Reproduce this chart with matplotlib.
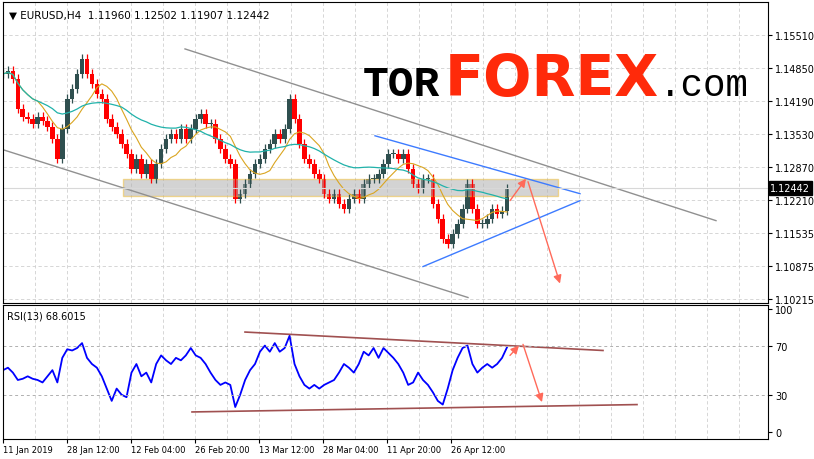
import numpy as np
import pandas as pd
import matplotlib
matplotlib.use("Agg")
import matplotlib.pyplot as plt
from matplotlib.transforms import blended_transform_factory

plt.rcParams["font.family"] = ["DejaVu Sans"]
plt.rcParams["font.size"] = 7

# H4 closes
closes = [1.1473, 1.1479, 1.1463, 1.1403, 1.1387, 1.1383, 1.1373, 1.1387, 1.1379, 1.1367,
          1.1343, 1.1303, 1.1363, 1.1423, 1.1443, 1.1473, 1.1503, 1.1473, 1.1453, 1.1433,
          1.1423, 1.1383, 1.1367, 1.1353, 1.1333, 1.1313, 1.1283, 1.1303, 1.1273, 1.1293,
          1.1263, 1.1293, 1.1323, 1.1343, 1.1353, 1.1343, 1.1363, 1.1343, 1.1363, 1.1383,
          1.1393, 1.1373, 1.1373, 1.1343, 1.1323, 1.1303, 1.1293, 1.1223, 1.1233, 1.1253,
          1.1273, 1.1293, 1.1303, 1.1323, 1.1333, 1.1353, 1.1343, 1.1363, 1.1423, 1.1383,
          1.1333, 1.1303, 1.1293, 1.1273, 1.1263, 1.1233, 1.1223, 1.1233, 1.1213, 1.1203,
          1.1223, 1.1233, 1.1223, 1.1253, 1.1263, 1.1263, 1.1273, 1.1293, 1.1313, 1.1313,
          1.1303, 1.1313, 1.1283, 1.1253, 1.1243, 1.1263, 1.1263, 1.1213, 1.1183, 1.1143,
          1.1133, 1.1153, 1.1173, 1.1203, 1.1253, 1.1203, 1.1173, 1.1173, 1.1183, 1.1203,
          1.1193, 1.1199, 1.12442]
rsi = [50, 52, 48, 42, 43, 45, 43, 42, 40, 45, 50, 40, 60, 67, 66, 68, 72, 60, 55, 52,
       45, 35, 25, 35, 30, 28, 48, 55, 45, 48, 40, 55, 62, 58, 55, 60, 58, 62, 68, 62,
       60, 55, 48, 42, 38, 40, 38, 20, 30, 42, 50, 55, 65, 70, 65, 72, 65, 68, 78, 55,
       45, 38, 35, 38, 35, 38, 40, 42, 48, 55, 52, 48, 55, 65, 62, 68, 60, 68, 64, 60,
       55, 48, 38, 40, 48, 42, 38, 32, 25, 22, 35, 50, 60, 68, 70, 55, 48, 52, 55, 52,
       55, 60, 68.6]
price_ticks = [1.15510, 1.14850, 1.14190, 1.13530, 1.12870, 1.12210, 1.11535, 1.10875, 1.10215]
date_labels = ["11 Jan 2019", "28 Jan 12:00", "12 Feb 04:00", "26 Feb 20:00",
               "13 Mar 12:00", "28 Mar 04:00", "11 Apr 20:00", "26 Apr 12:00"]
last_price = 1.12442

# drawn objects (x in chart pixels, y in price / rsi units)
channel_up = [(185, 1.1523), (716, 1.1179)]
channel_dn = [(0, 1.1323), (468, 1.1025)]
tri_up = [(375, 1.1349), (580, 1.1233)]
tri_dn = [(423, 1.1087), (580, 1.1219)]
zone = (123, 558, 1.1229, 1.1263)
rsi_up = [(245, 81), (603, 66)]
rsi_dn = [(192, 16), (637, 22)]

W, H = 814, 460
fig = plt.figure(figsize=(W / 100, H / 100), dpi=100)
ax = fig.add_axes([3 / W, 1 - 304 / H, 765 / W, 301 / H])
ax2 = fig.add_axes([3 / W, 1 - 440 / H, 765 / W, 134 / H])

n = len(closes)
xs = np.linspace(3, 507, n)
opens = [closes[0]] + closes[:-1]
for x, o, c in zip(xs, opens, closes):
    col = "#ff0000" if c < o else "#2f4f4f"
    lo, hi = min(o, c), max(o, c)
    ax.vlines(x, lo - 0.0009, hi + 0.0009, color=col, lw=0.9)
    ax.bar(x, max(hi - lo, 0.0002), bottom=lo, width=4.6, color=col, lw=0)

s = pd.Series(closes)
ax.plot(xs, s.rolling(8, min_periods=1).mean(), color="#daa520", lw=0.8)
ax.plot(xs, s.rolling(25, min_periods=1).mean(), color="#20b2aa", lw=0.9)

for seg, col in [(channel_up, "#909090"), (channel_dn, "#909090"),
                 (tri_up, "#3d7bff"), (tri_dn, "#3d7bff")]:
    ax.plot(*zip(*seg), color=col, lw=1)
ax.fill_between([zone[0], zone[1]], zone[2], zone[3], color="#b0b0b0", alpha=0.55,
                edgecolor="#f0c040", lw=1)
ax.axhline(last_price, color="#d8d8d8", lw=0.8)
arrow = dict(arrowstyle="-|>", color="#ff6a5a", lw=1, mutation_scale=12, shrinkA=0, shrinkB=0)
ax.annotate("", xy=(526, 1.1263), xytext=(510, 1.1219), arrowprops=arrow)
ax.annotate("", xy=(560, 1.1053), xytext=(528, 1.1257), arrowprops=arrow)

ax.set_xlim(3, 768)
ax.set_ylim(1.1014, 1.1617)
ax.yaxis.tick_right()
ax.set_yticks(price_ticks)
ax.set_yticklabels([f"{p:.5f}" for p in price_ticks])
ax.set_xticks([])
ax.tick_params(axis="y", length=3, pad=2)
for p in price_ticks:
    ax.axhline(p, color="#d0d0d0", lw=0.6, ls=(0, (4, 3)), zorder=0)
for gx in np.arange(3, 768, 32):
    ax.axvline(gx, color="#d0d0d0", lw=0.6, ls=(0, (4, 3)), zorder=0)
    ax2.axvline(gx, color="#d0d0d0", lw=0.6, ls=(0, (4, 3)), zorder=0)
tr = blended_transform_factory(ax.transAxes, ax.transData)
ax.text(1.003, last_price, f"{last_price:.5f}", transform=tr, color="white", va="center",
        ha="left", bbox=dict(fc="black", ec="black", pad=1.2))
ax.text(0.008, 0.975, "▼ EURUSD,H4  1.11960 1.12502 1.11907 1.12442", transform=ax.transAxes,
        va="top", fontsize=7.5)

# logo
ax.text(0.470, 0.69, "TOR", transform=ax.transAxes, fontsize=31, family="Liberation Mono",
        weight="bold", color="black", va="baseline")
ax.text(0.578, 0.69, "FOREX", transform=ax.transAxes, fontsize=41, weight="heavy",
        color="#ff2a0a", va="baseline")
ax.text(0.857, 0.69, ".com", transform=ax.transAxes, fontsize=27, family="Liberation Mono",
        color="black", va="baseline")

# RSI panel
ax2.plot(xs[:len(rsi)], rsi, color="#0000ff", lw=1.3)
for seg in (rsi_up, rsi_dn):
    ax2.plot(*zip(*seg), color="#a05050", lw=1.2)
ax2.annotate("", xy=(519, 70), xytext=(510, 62), arrowprops=arrow)
ax2.annotate("", xy=(542, 24), xytext=(523, 71), arrowprops=arrow)
for lvl in (70, 30):
    ax2.axhline(lvl, color="#b0b0b0", lw=0.7, ls=(0, (3, 3)))
ax2.set_xlim(3, 768)
ax2.set_ylim(-6, 103)
ax2.yaxis.tick_right()
ax2.set_yticks([100, 70, 30, 0])
ax2.tick_params(axis="y", length=3, pad=2)
ax2.set_xticks(3 + 64 * np.arange(len(date_labels)))
ax2.set_xticklabels(date_labels, ha="left", fontsize=6)
ax2.tick_params(axis="x", length=3, pad=1)
ax2.text(0.005, 0.96, "RSI(13) 68.6015", transform=ax2.transAxes, va="top")

fig.savefig("out.png", dpi=100)
